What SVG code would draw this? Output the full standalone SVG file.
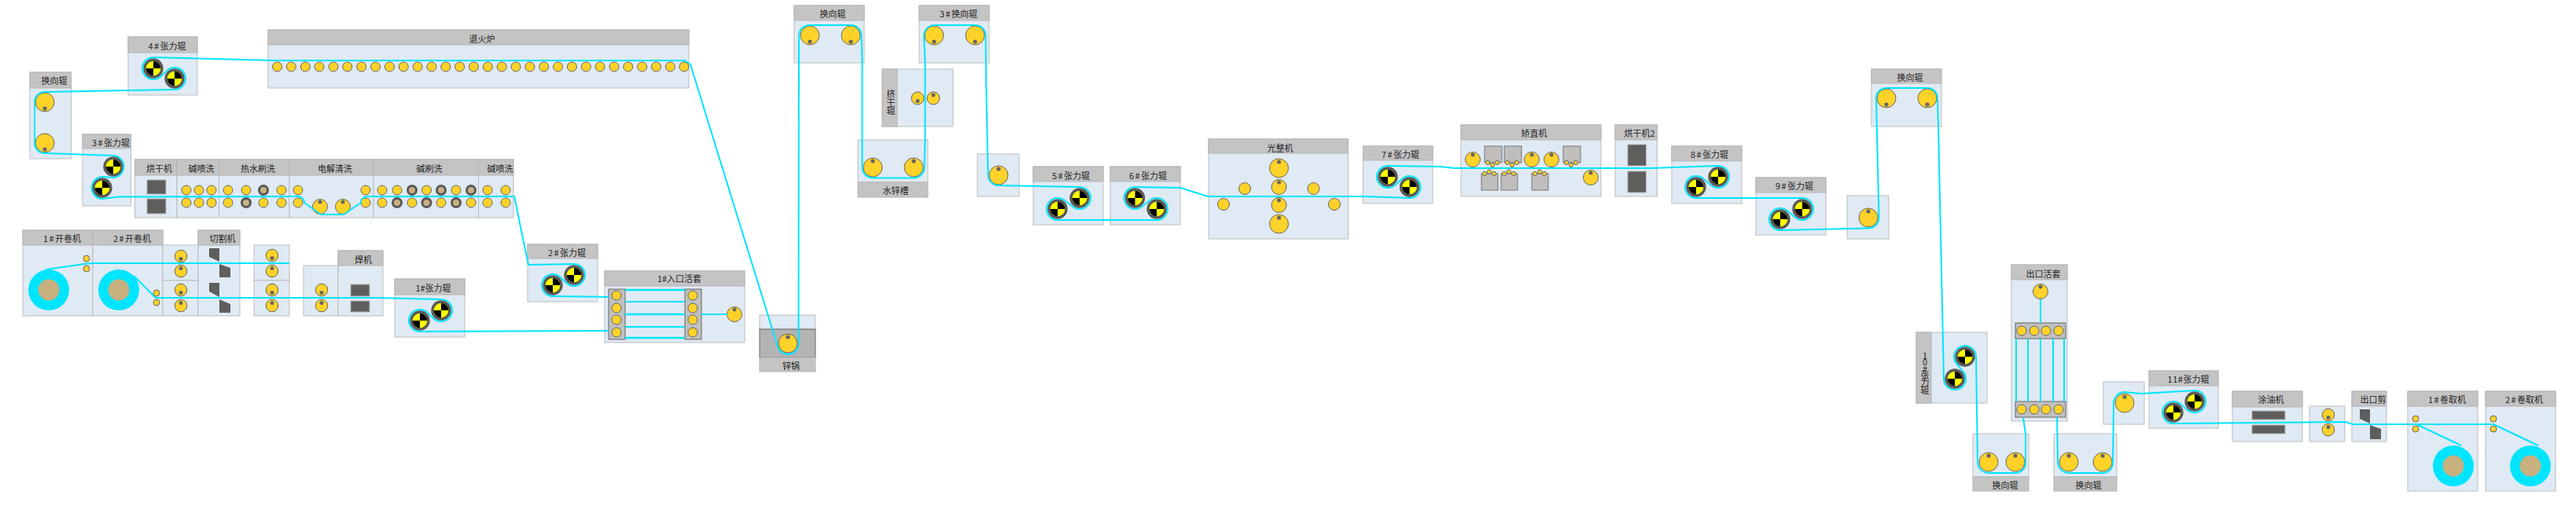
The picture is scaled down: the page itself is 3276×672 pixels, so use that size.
<svg xmlns="http://www.w3.org/2000/svg" xmlns:xlink="http://www.w3.org/1999/xlink" width="3276" height="672" viewBox="0 0 3276 672">
<style>
.b{fill:#e0eaf4;stroke:#bcbcbc;stroke-width:1}
.h{fill:#c4c4c4;stroke:#b4b4b4;stroke-width:1}
.t{font-family:"Noto Sans CJK SC","Liberation Sans",sans-serif;font-size:11px;fill:#222;text-anchor:middle;dominant-baseline:central}
.n{letter-spacing:1.3px}
.r{fill:#ffd22a;stroke:#666;stroke-width:1}
.d{fill:#666}
.m{fill:#5e5e5e;stroke:#b4b4b4;stroke-width:1}
.g{fill:#c0bdbd;stroke:#777;stroke-width:1}
.gr{fill:#c0c0c0;stroke:#666;stroke-width:1}
.c{fill:#00e5ff}
.i{fill:#c8b07f}
#connectors path{fill:none;stroke:#00e5ff;stroke-width:2;stroke-linejoin:round}
#connectors path.k{stroke-width:2.5}
</style>
<defs>
<g id="T"><circle r="11" fill="#ffff00" stroke="#595959" stroke-width="3.4"/><path d="M0,0V-9.3A9.3,9.3 0 0 1 9.3,0ZM0,0V9.3A9.3,9.3 0 0 1 -9.3,0Z" fill="#000"/></g>
<g id="ru"><circle class="r" r="12" stroke-width="1.2"/><circle class="d" cy="-8" r="2.6"/></g>
<g id="rd"><circle class="r" r="12"/><circle class="d" cy="8" r="2.6"/></g>
<g id="mu"><circle class="r" r="9.5"/><circle class="d" cy="-6" r="2.5"/></g>
<g id="pu"><circle class="r" r="7.8"/><circle class="d" cy="-3.5" r="2.5"/></g>
<g id="pd"><circle class="r" r="7.8"/><circle class="d" cy="3.5" r="2.5"/></g>
<circle id="s" class="r" r="6"/>
<circle id="x" class="r" r="4"/>
<circle id="y" class="r" r="2.6"/>
<g id="br"><circle r="5.5" fill="#c8b07f" stroke="#595959" stroke-width="3"/></g>
</defs>

<g id="node-uncoiler1"><rect class="b" x="29" y="293" width="89" height="109"/><rect class="h" x="29" y="293" width="89" height="19"/><text class="t" x="79" y="303"><tspan class="n">1#</tspan>开卷机</text><circle class="c" cx="62" cy="369" r="26"/><circle class="i" cx="62" cy="369" r="13.5"/><use href="#x" x="110" y="329"/><use href="#x" x="110" y="342"/></g>
<g id="node-uncoiler2"><rect class="b" x="118" y="293" width="89" height="109"/><rect class="h" x="118" y="293" width="89" height="19"/><text class="t" x="168" y="303"><tspan class="n">2#</tspan>开卷机</text><circle class="c" cx="151" cy="369" r="26"/><circle class="i" cx="151" cy="369" r="13.5"/><use href="#x" x="199" y="373"/><use href="#x" x="199" y="385"/></g>
<g id="node-pinch1"><rect class="b" x="207" y="312" width="45" height="45"/><rect class="b" x="207" y="357" width="45" height="45"/><use href="#pd" x="230" y="326"/><use href="#pu" x="230" y="345"/><use href="#pd" x="230" y="369"/><use href="#pu" x="230" y="389"/></g>
<g id="node-cutter"><rect class="b" x="252" y="293" width="53" height="109"/><rect class="h" x="252" y="293" width="53" height="19"/><text class="t" x="283" y="303">切割机</text><path d="M266,316H279V333L266,327ZM279,336L293,341V353H279ZM266,360H279V378L266,371ZM279,381L293,387V398H279Z" fill="#5e5e5e"/></g>
<g id="node-pinch2"><rect class="b" x="323" y="312" width="45" height="45"/><rect class="b" x="323" y="357" width="45" height="45"/><use href="#pd" x="346" y="325"/><use href="#pu" x="346" y="345"/><use href="#pd" x="346" y="369"/><use href="#pu" x="346" y="389"/></g>
<g id="node-pinch3"><rect class="b" x="386" y="338" width="44" height="64"/><use href="#pd" x="409" y="369"/><use href="#pu" x="409" y="389"/></g>
<g id="node-welder"><rect class="b" x="430" y="319" width="57" height="83"/><rect class="h" x="430" y="319" width="57" height="19"/><text class="t" x="462" y="330">焊机</text><rect class="m" x="446" y="362" width="24" height="15"/><rect class="m" x="446" y="383" width="24" height="14"/></g>
<g id="node-tension1"><rect class="b" x="502" y="355" width="89" height="74"/><rect class="h" x="502" y="355" width="89" height="20"/><text class="t" x="551" y="366">1#张力辊</text><use href="#T" x="561" y="395"/><use href="#T" x="534" y="408"/></g>
<g id="node-dryer"><rect class="b" x="171.500" y="203" width="53.500" height="74"/><rect class="h" x="171.500" y="203" width="53.500" height="20"/><text class="t" x="202.500" y="214">烘干机</text><rect class="m" x="187" y="229" width="24" height="18"/><rect class="m" x="187" y="253" width="24" height="19"/></g>
<g id="node-spray1"><rect class="b" x="225" y="203" width="53.500" height="74"/><rect class="h" x="225" y="203" width="53.500" height="20"/><text class="t" x="256" y="214">碱喷洗</text><use href="#s" x="237" y="242"/><use href="#s" x="253" y="242"/><use href="#s" x="269" y="242"/><use href="#s" x="237" y="258"/><use href="#s" x="253" y="258"/><use href="#s" x="269" y="258"/></g>
<g id="node-hotwash"><rect class="b" x="278.500" y="203" width="89.500" height="74"/><rect class="h" x="278.500" y="203" width="89.500" height="20"/><text class="t" x="328" y="214">热水刷洗</text><use href="#s" x="290" y="242"/><use href="#s" x="313" y="242"/><use href="#br" x="335" y="242"/><use href="#s" x="358" y="242"/><use href="#s" x="290" y="258"/><use href="#br" x="313" y="258"/><use href="#s" x="335" y="258"/><use href="#s" x="358" y="258"/></g>
<g id="node-electro"><rect class="b" x="368" y="203" width="107" height="74"/><rect class="h" x="368" y="203" width="107" height="20"/><text class="t" x="426" y="214">电解清洗</text><use href="#s" x="379" y="242"/><use href="#s" x="465" y="242"/><use href="#s" x="379" y="258"/><use href="#s" x="465" y="258"/><use href="#mu" x="407" y="263"/><use href="#mu" x="436" y="263"/></g>
<g id="node-brush"><rect class="b" x="475" y="203" width="133.500" height="74"/><rect class="h" x="475" y="203" width="133.500" height="20"/><text class="t" x="546" y="214">碱刷洗</text><use href="#s" x="486" y="242"/><use href="#s" x="505" y="242"/><use href="#br" x="524" y="242"/><use href="#s" x="542.500" y="242"/><use href="#br" x="561" y="242"/><use href="#s" x="580" y="242"/><use href="#br" x="599" y="242"/><use href="#s" x="486" y="258"/><use href="#br" x="505" y="258"/><use href="#s" x="524" y="258"/><use href="#br" x="542.500" y="258"/><use href="#s" x="561" y="258"/><use href="#br" x="580" y="258"/><use href="#s" x="599" y="258"/></g>
<g id="node-spray2"><rect class="b" x="608.500" y="203" width="44.500" height="74"/><rect class="h" x="608.500" y="203" width="44.500" height="20"/><text class="t" x="636" y="214">碱喷洗</text><use href="#s" x="620" y="242"/><use href="#s" x="643" y="242"/><use href="#s" x="620" y="258"/><use href="#s" x="643" y="258"/></g>
<g id="node-tension3"><rect class="b" x="105" y="171" width="61.500" height="91"/><rect class="h" x="105" y="171" width="61.500" height="18"/><text class="t" x="141" y="181"><tspan class="n">3#</tspan>张力辊</text><use href="#T" x="144" y="212"/><use href="#T" x="130" y="239"/></g>
<g id="node-turn1"><rect class="b" x="38" y="92" width="52.500" height="110"/><rect class="h" x="38" y="92" width="52.500" height="20"/><text class="t" x="69" y="102">换向辊</text><use href="#rd" x="57" y="130"/><use href="#rd" x="57" y="182"/></g>
<g id="node-tension4"><rect class="b" x="163" y="47" width="88" height="74"/><rect class="h" x="163" y="47" width="88" height="20"/><text class="t" x="212.500" y="58"><tspan class="n">4#</tspan>张力辊</text><use href="#T" x="195" y="87"/><use href="#T" x="222" y="100"/></g>
<g id="node-furnace"><rect class="b" x="341" y="38" width="535" height="74"/><rect class="h" x="341" y="38" width="535" height="19"/><text class="t" x="613" y="49">退火炉</text><use href="#s" x="352.600" y="85"/><use href="#s" x="370.400" y="85"/><use href="#s" x="388.300" y="85"/><use href="#s" x="406.100" y="85"/><use href="#s" x="424" y="85"/><use href="#s" x="441.800" y="85"/><use href="#s" x="459.700" y="85"/><use href="#s" x="477.500" y="85"/><use href="#s" x="495.400" y="85"/><use href="#s" x="513.200" y="85"/><use href="#s" x="531.100" y="85"/><use href="#s" x="548.900" y="85"/><use href="#s" x="566.800" y="85"/><use href="#s" x="584.600" y="85"/><use href="#s" x="602.500" y="85"/><use href="#s" x="620.300" y="85"/><use href="#s" x="638.200" y="85"/><use href="#s" x="656" y="85"/><use href="#s" x="673.900" y="85"/><use href="#s" x="691.700" y="85"/><use href="#s" x="709.600" y="85"/><use href="#s" x="727.400" y="85"/><use href="#s" x="745.300" y="85"/><use href="#s" x="763.100" y="85"/><use href="#s" x="781" y="85"/><use href="#s" x="798.800" y="85"/><use href="#s" x="816.700" y="85"/><use href="#s" x="834.500" y="85"/><use href="#s" x="852.400" y="85"/><use href="#s" x="870" y="85"/></g>
<g id="node-tension2"><rect class="b" x="671" y="311" width="89" height="73"/><rect class="h" x="671" y="311" width="89" height="18"/><text class="t" x="721" y="321"><tspan class="n">2#</tspan>张力辊</text><use href="#T" x="730" y="350"/><use href="#T" x="703" y="363"/></g>
<g id="node-looper1"><rect class="b" x="769" y="345" width="178" height="91"/><rect class="h" x="769" y="345" width="178" height="19"/><text class="t" x="864" y="354">1#入口活套</text><rect class="gr" x="774" y="368" width="21" height="64"/><rect class="gr" x="871" y="368" width="21" height="64"/><use href="#s" x="784" y="376"/><use href="#s" x="784" y="392"/><use href="#s" x="784" y="407"/><use href="#s" x="784" y="423"/><use href="#s" x="881" y="376"/><use href="#s" x="881" y="392"/><use href="#s" x="881" y="407"/><use href="#s" x="881" y="423"/><use href="#mu" x="934" y="400"/></g>
<g id="node-zincpot"><rect class="b" x="966" y="401" width="71" height="18"/><rect x="966" y="419" width="71" height="36" fill="#b3b3b3" stroke="#666" stroke-width="1"/><rect class="h" x="966" y="455" width="71" height="18"/><text class="t" x="1006" y="465">锌锅</text><use href="#ru" x="1002" y="437"/></g>
<g id="node-turn2"><rect class="b" x="1010" y="7" width="89" height="73"/><rect class="h" x="1010" y="7" width="89" height="19"/><text class="t" x="1059" y="17">换向辊</text><use href="#rd" x="1030" y="45"/><use href="#rd" x="1082" y="45"/></g>
<g id="node-turn3"><rect class="b" x="1169" y="7" width="89" height="73"/><rect class="h" x="1169" y="7" width="89" height="19"/><text class="t" x="1219" y="17"><tspan class="n">3#</tspan>换向辊</text><use href="#rd" x="1188" y="45"/><use href="#rd" x="1240" y="45"/></g>
<g id="node-squeeze"><rect class="b" x="1122" y="88" width="90" height="73"/><rect class="h" x="1122" y="88" width="19" height="73"/><text class="t"><tspan x="1133" y="119">挤</tspan><tspan x="1133" y="130">干</tspan><tspan x="1133" y="140">辊</tspan></text><circle class="r" cx="1167" cy="125" r="8"/><circle class="d" cx="1167" cy="128.500" r="2.500"/><circle class="r" cx="1187" cy="125" r="8"/><circle class="d" cx="1187" cy="121" r="2.500"/></g>
<g id="node-watertank"><rect class="b" x="1091" y="178" width="89" height="54"/><rect class="h" x="1091" y="232" width="89" height="19"/><text class="t" x="1139" y="242">水锌槽</text><use href="#ru" x="1110" y="213"/><use href="#ru" x="1162" y="213"/></g>
<g id="node-turn4"><rect class="b" x="1243" y="196" width="53" height="54"/><use href="#ru" x="1270" y="223"/></g>
<g id="node-tension5"><rect class="b" x="1314" y="212" width="89" height="74"/><rect class="h" x="1314" y="212" width="89" height="19"/><text class="t" x="1362" y="223"><tspan class="n">5#</tspan>张力辊</text><use href="#T" x="1373" y="252"/><use href="#T" x="1345" y="266"/></g>
<g id="node-tension6"><rect class="b" x="1412" y="212" width="89" height="74"/><rect class="h" x="1412" y="212" width="89" height="19"/><text class="t" x="1460" y="223"><tspan class="n">6#</tspan>张力辊</text><use href="#T" x="1443.500" y="252"/><use href="#T" x="1471" y="266"/></g>
<g id="node-skinpass"><rect class="b" x="1537" y="177" width="177.500" height="127"/><rect class="h" x="1537" y="177" width="177.500" height="18"/><text class="t" x="1628" y="188">光整机</text><use href="#ru" x="1626.500" y="214"/><use href="#mu" x="1626.500" y="238"/><use href="#mu" x="1626.500" y="261"/><use href="#ru" x="1626.500" y="285"/><circle class="r" cx="1583" cy="240" r="7.500"/><circle class="r" cx="1670.500" cy="240" r="7.500"/><circle class="r" cx="1556" cy="260" r="7.500"/><circle class="r" cx="1697" cy="260" r="7.500"/></g>
<g id="node-tension7"><rect class="b" x="1733.500" y="186" width="88.500" height="73"/><rect class="h" x="1733.500" y="186" width="88.500" height="18"/><text class="t" x="1781" y="196"><tspan class="n">7#</tspan>张力辊</text><use href="#T" x="1765" y="225"/><use href="#T" x="1792.600" y="238"/></g>
<g id="node-leveler"><rect class="b" x="1858" y="159" width="178" height="91"/><rect class="h" x="1858" y="159" width="178" height="19"/><text class="t" x="1951" y="169">矫直机</text><use href="#mu" x="1873" y="203"/><use href="#mu" x="1948" y="203"/><use href="#mu" x="1973" y="203"/><use href="#mu" x="2023" y="226"/><rect class="g" x="1888" y="186" width="22" height="21"/><rect class="g" x="1913" y="186" width="22" height="21"/><rect class="g" x="1988" y="186" width="22" height="21"/><rect class="g" x="1884" y="221" width="21" height="21"/><rect class="g" x="1909" y="221" width="21" height="21"/><rect class="g" x="1948" y="221" width="21" height="21"/><use href="#y" x="1892" y="207"/><use href="#y" x="1898" y="210"/><use href="#y" x="1904" y="207"/><use href="#y" x="1917" y="207"/><use href="#y" x="1923" y="210"/><use href="#y" x="1929" y="207"/><use href="#y" x="1992" y="207"/><use href="#y" x="1998" y="210"/><use href="#y" x="2004" y="207"/><use href="#y" x="1888" y="221"/><use href="#y" x="1894" y="218.500"/><use href="#y" x="1900" y="221"/><use href="#y" x="1913" y="221"/><use href="#y" x="1919" y="218.500"/><use href="#y" x="1925" y="221"/><use href="#y" x="1952" y="221"/><use href="#y" x="1958" y="218.500"/><use href="#y" x="1964" y="221"/></g>
<g id="node-dryer2"><rect class="b" x="2054" y="159" width="53.500" height="91"/><rect class="h" x="2054" y="159" width="53.500" height="19"/><text class="t" x="2085" y="169">烘干机2</text><rect class="m" x="2070" y="184" width="23.500" height="27"/><rect class="m" x="2070" y="218" width="23.500" height="27"/></g>
<g id="node-tension8"><rect class="b" x="2126" y="186" width="89" height="73"/><rect class="h" x="2126" y="186" width="89" height="19"/><text class="t" x="2174" y="196"><tspan class="n">8#</tspan>张力辊</text><use href="#T" x="2185" y="225"/><use href="#T" x="2157" y="238"/></g>
<g id="node-tension9"><rect class="b" x="2233" y="226" width="89" height="73"/><rect class="h" x="2233" y="226" width="89" height="19"/><text class="t" x="2282" y="236"><tspan class="n">9#</tspan>张力辊</text><use href="#T" x="2292" y="266"/><use href="#T" x="2264" y="279"/></g>
<g id="node-turn5"><rect class="b" x="2349" y="249" width="53" height="55"/><use href="#ru" x="2376" y="277"/></g>
<g id="node-turn6"><rect class="b" x="2380" y="88" width="89" height="73"/><rect class="h" x="2380" y="88" width="89" height="18"/><text class="t" x="2429" y="98">换向辊</text><use href="#rd" x="2399" y="125"/><use href="#rd" x="2451" y="125"/></g>
<g id="node-tension10"><rect class="b" x="2437" y="423" width="90" height="90"/><rect class="h" x="2437" y="423" width="19" height="90"/><text class="t"><tspan x="2448" y="452">1</tspan><tspan x="2448" y="460">0</tspan><tspan x="2448" y="469">#</tspan><tspan x="2448" y="477">张</tspan><tspan x="2448" y="486">力</tspan><tspan x="2448" y="496">辊</tspan></text><use href="#T" x="2499" y="454"/><use href="#T" x="2486" y="482"/></g>
<g id="node-turn7"><rect class="b" x="2509" y="552" width="71" height="55"/><rect class="h" x="2509" y="607" width="71" height="18"/><text class="t" x="2550" y="617">换向辊</text><use href="#ru" x="2529" y="588"/><use href="#ru" x="2563" y="588"/></g>
<g id="node-turn8"><rect class="b" x="2612" y="552" width="80" height="55"/><rect class="h" x="2612" y="607" width="80" height="18"/><text class="t" x="2656" y="617">换向辊</text><use href="#ru" x="2631" y="588"/><use href="#ru" x="2674" y="588"/></g>
<g id="node-looper2"><rect class="b" x="2558" y="337" width="71" height="199"/><rect class="h" x="2558" y="337" width="71" height="19"/><text class="t" x="2598.500" y="348">出口活套</text><use href="#mu" x="2595" y="371"/><rect class="gr" x="2563" y="411" width="64" height="20"/><rect class="gr" x="2563" y="511" width="64" height="20"/><use href="#s" x="2571" y="421"/><use href="#s" x="2587" y="421"/><use href="#s" x="2602" y="421"/><use href="#s" x="2618" y="421"/><use href="#s" x="2571" y="521"/><use href="#s" x="2587" y="521"/><use href="#s" x="2602" y="521"/><use href="#s" x="2618" y="521"/></g>
<g id="node-turn9"><rect class="b" x="2675" y="486" width="52" height="54"/><use href="#ru" x="2702" y="513"/></g>
<g id="node-tension11"><rect class="b" x="2733" y="472" width="88" height="73"/><rect class="h" x="2733" y="472" width="88" height="19"/><text class="t" x="2783" y="482"><tspan class="n" style="letter-spacing:.6px">11#</tspan>张力辊</text><use href="#T" x="2791" y="511"/><use href="#T" x="2764" y="525"/></g>
<g id="node-oiler"><rect class="b" x="2839" y="498" width="89" height="64"/><rect class="h" x="2839" y="498" width="89" height="20"/><text class="t" x="2888" y="508">涂油机</text><rect class="m" x="2864" y="523" width="42" height="11"/><rect class="m" x="2864" y="541" width="42" height="11"/></g>
<g id="node-pinch4"><rect class="b" x="2937" y="517" width="45" height="45"/><use href="#pd" x="2961" y="528"/><use href="#pu" x="2961" y="547"/></g>
<g id="node-exitshear"><rect class="b" x="2991" y="498" width="44" height="64"/><rect class="h" x="2991" y="498" width="44" height="19"/><text class="t" x="3018" y="508">出口剪</text><path d="M3001,521H3014V539L3001,533ZM3014,541L3028,546V559H3014Z" fill="#5e5e5e"/></g>
<g id="node-coiler1"><rect class="b" x="3062" y="498" width="89" height="127"/><rect class="h" x="3062" y="498" width="89" height="19"/><text class="t" x="3112" y="508"><tspan class="n">1#</tspan>卷取机</text><use href="#x" x="3072" y="533"/><use href="#x" x="3072" y="546"/><circle class="c" cx="3120" cy="593" r="26"/><circle class="i" cx="3120" cy="593" r="13.500"/></g>
<g id="node-coiler2"><rect class="b" x="3161" y="498" width="89" height="127"/><rect class="h" x="3161" y="498" width="89" height="19"/><text class="t" x="3210" y="508"><tspan class="n">2#</tspan>卷取机</text><use href="#x" x="3171" y="533"/><use href="#x" x="3171" y="546"/><circle class="c" cx="3218" cy="593" r="26"/><circle class="i" cx="3218" cy="593" r="13.500"/></g>

<g id="connectors">
<path d="M58,343L107,336L118,335L368,335"/>
<path d="M170,351L198,379L480,379L561,381A14,14 0 1 1 551.400,405.200L543.600,397.800A14,14 0 1 0 534,422L774,421"/>
<path d="M774,378L703,377A14,14 0 1 1 712.600,352.800L720.400,360.200A14,14 0 1 0 730,336L672,337L654,250L467,250A8,8 0 0 0 459,258L437,273L408,273L387,258A8,8 0 0 0 379,250L150,250.500L130,253A14,14 0 1 1 131.100,225L142.900,226A14,14 0 1 0 144,198L57,195A13,13 0 0 1 44,182L44,130A13,13 0 0 1 57,117L222,114A14,14 0 1 0 212.400,89.800L204.600,97.200A14,14 0 1 1 195,73L350,77L871,77L878,82L989,441A13.500,13.500 0 0 0 1015.500,437L1016,45A13.500,13.500 0 0 1 1030,32L1082,32A13.500,13.500 0 0 1 1095.500,45L1096.500,80L1096.500,213A13.500,13.500 0 0 0 1110,226.500L1162,226.500A13.500,13.500 0 0 0 1175.500,213L1176.500,178L1176.500,80L1175,45A13.500,13.500 0 0 1 1188,32L1240,32A13.500,13.500 0 0 1 1253.500,45L1254,100L1256.500,222A13.500,13.500 0 0 0 1270,236L1373,238A14,14 0 1 1 1363.400,262.200L1354.600,255.800A14,14 0 1 0 1345,280L1471,280A14,14 0 1 0 1461.400,255.800L1453.100,262.200A14,14 0 1 1 1443.500,238L1501,239L1536,250L1735,250L1792.600,252A14,14 0 1 0 1783,227.800L1774.600,235.200A14,14 0 1 1 1765,211L1830,212L1850,214L2100,214L2185,211A14,14 0 1 1 2175.400,235.200L2166.600,227.800A14,14 0 1 0 2157,252L2292,252A14,14 0 1 1 2282.400,276.200L2273.600,268.800A14,14 0 1 0 2264,293L2376,290.500A13.500,13.500 0 0 0 2389.500,277L2386,125A13,13 0 0 1 2399,112L2451,112A13,13 0 0 1 2464,125L2465,161L2472,482A14,14 0 1 0 2496.700,473L2488.300,463A14,14 0 1 1 2513,454L2515,588A14,14 0 0 0 2529,602L2563,602A13,13 0 0 0 2576,589L2576,552L2573,532"/>
<path d="M2616,531L2617,588A14,14 0 0 0 2631,602L2674,602A13,13 0 0 0 2687,589L2688,513A14,14 0 0 1 2702,499L2723,501L2791,497A14,14 0 1 1 2781.400,521.200L2773.600,514.800A14,14 0 1 0 2764,539L2983,537L2992,540L3172,540"/>
<path d="M3073,540L3130,567"/>
<path d="M3171,540L3228,567"/>
<path class="k" d="M795,369H871"/>
<path d="M795,384H871"/>
<path class="k" d="M795,400H871"/>
<path d="M795,416H871"/>
<path class="k" d="M795,430H871"/>
<path d="M892,400H925"/>
<path d="M2595,381V411"/>
<path d="M2564,431V511M2579,431V511M2595,431V511M2611,431V511M2625,431V511"/>
</g>
</svg>
